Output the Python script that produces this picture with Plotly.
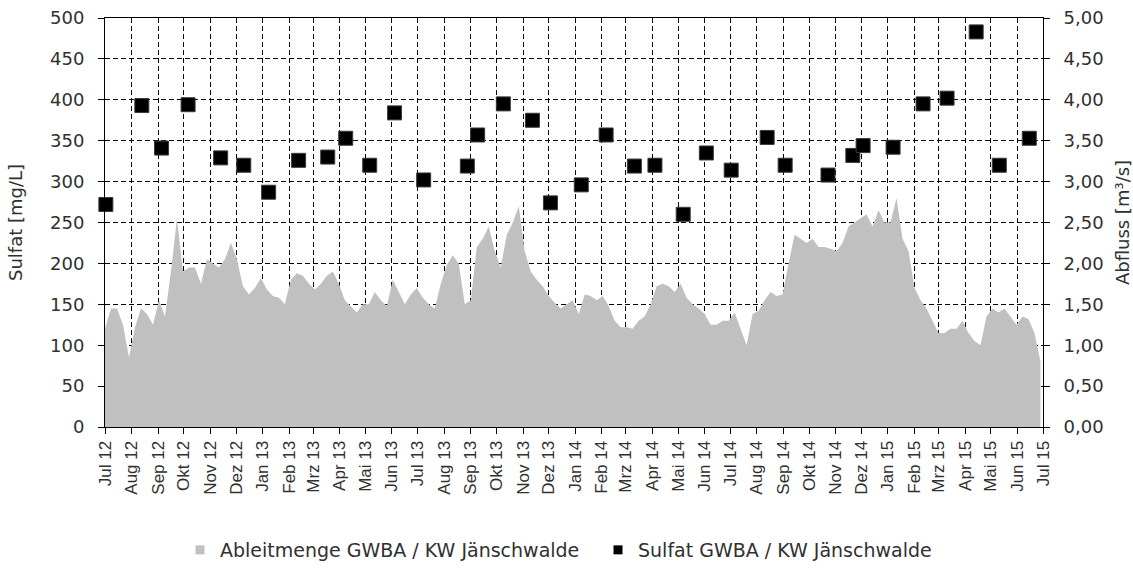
import pandas as pd
import plotly.graph_objects as go

# Monthly sulfate samples, GWBA / KW Jänschwalde [mg/L]
sulfat_dates = [
    "2012-07-02", "2012-08-13", "2012-09-05", "2012-10-06", "2012-11-13", "2012-12-10",
    "2013-01-08", "2013-02-12", "2013-03-18", "2013-04-08", "2013-05-06", "2013-06-04",
    "2013-07-08", "2013-08-28", "2013-09-09", "2013-10-09", "2013-11-12", "2013-12-03",
    "2014-01-08", "2014-02-06", "2014-03-11", "2014-04-04", "2014-05-07", "2014-06-03",
    "2014-07-02", "2014-08-13", "2014-09-03", "2014-10-23", "2014-11-21", "2014-12-03",
    "2015-01-07", "2015-02-11", "2015-03-11", "2015-04-14", "2015-05-11", "2015-06-15",
]
sulfat_values = [
    272, 393, 341, 394, 329, 320,
    287, 326, 330, 353, 320, 384,
    302, 319, 357, 395, 375, 274,
    296, 357, 319, 320, 260, 335,
    314, 354, 320, 308, 332, 344,
    342, 395, 402, 483, 320, 353,
]

# Weekly discharge, GWBA / KW Jänschwalde [m³/s], starting 2012-07-01
abfluss_start = "2012-07-01"
abfluss_values = [
    1.20, 1.45, 1.45, 1.25, 0.85, 1.22, 1.45, 1.38, 1.25, 1.55,
    1.35, 1.90, 2.55, 1.90, 1.95, 1.95, 1.75, 2.05, 2.00, 1.95,
    2.05, 2.25, 2.05, 1.72, 1.62, 1.70, 1.82, 1.68, 1.60, 1.58,
    1.50, 1.80, 1.88, 1.85, 1.75, 1.68, 1.75, 1.85, 1.90, 1.75,
    1.55, 1.48, 1.40, 1.50, 1.50, 1.65, 1.55, 1.48, 1.80, 1.65,
    1.50, 1.62, 1.70, 1.58, 1.50, 1.45, 1.75, 1.98, 2.10, 2.00,
    1.50, 1.55, 2.20, 2.30, 2.45, 2.15, 1.95, 2.35, 2.50, 2.70,
    2.15, 1.90, 1.80, 1.72, 1.60, 1.52, 1.45, 1.50, 1.55, 1.38,
    1.62, 1.60, 1.55, 1.60, 1.48, 1.30, 1.22, 1.22, 1.20, 1.30,
    1.35, 1.50, 1.72, 1.75, 1.72, 1.65, 1.75, 1.58, 1.50, 1.45,
    1.38, 1.25, 1.25, 1.30, 1.30, 1.40, 1.20, 1.00, 1.38, 1.42,
    1.55, 1.65, 1.60, 1.62, 2.00, 2.35, 2.30, 2.25, 2.30, 2.20,
    2.20, 2.18, 2.15, 2.25, 2.45, 2.50, 2.55, 2.60, 2.45, 2.65,
    2.50, 2.50, 2.80, 2.30, 2.15, 1.70, 1.55, 1.45, 1.30, 1.15,
    1.15, 1.20, 1.20, 1.30, 1.15, 1.05, 1.00, 1.35, 1.45, 1.40,
    1.45, 1.35, 1.25, 1.35, 1.32, 1.15, 0.80,
]
abfluss_dates = pd.date_range(abfluss_start, periods=len(abfluss_values), freq="7D")

# Month ticks and German labels
month_ticks = pd.date_range("2012-07-01", "2015-07-01", freq="MS")
month_names = ["Jan", "Feb", "Mrz", "Apr", "Mai", "Jun",
               "Jul", "Aug", "Sep", "Okt", "Nov", "Dez"]
month_labels = [f"{month_names[d.month - 1]} {d.year % 100:02d}" for d in month_ticks]

name_abfluss = "Ableitmenge GWBA / KW Jänschwalde"
name_sulfat = "Sulfat GWBA / KW Jänschwalde"
area_color = "#C0C0C0"
text_color = "#303030"
font_h = "DejaVu Sans"

fig = go.Figure()

fig.add_trace(go.Scatter(
    x=abfluss_dates, y=abfluss_values,
    name=name_abfluss, showlegend=False,
    mode="lines", line=dict(width=0, color=area_color),
    fill="tozeroy", fillcolor=area_color,
    yaxis="y2",
))

fig.add_trace(go.Scatter(
    x=pd.to_datetime(sulfat_dates), y=sulfat_values,
    name=name_sulfat, showlegend=False,
    mode="markers",
    marker=dict(symbol="square", size=14, color="#000000",
                line=dict(width=1, color="#3a3a3a")),
    cliponaxis=False,
))

# Legend keys: small square swatches, one legend box per series
for nm, col, lg in [(name_abfluss, area_color, "legend"), (name_sulfat, "#000000", "legend2")]:
    fig.add_trace(go.Scatter(
        x=[None], y=[None], name=nm, mode="markers", legend=lg,
        marker=dict(symbol="square", size=9, color=col),
    ))

grid = dict(showgrid=True, gridcolor="#000000", gridwidth=1, griddash="5px,3px")
legend_style = dict(orientation="h", xanchor="left", yref="container", y=18 / 568,
                    yanchor="middle", itemwidth=30,
                    font=dict(family=font_h, size=19, color=text_color))

fig.update_layout(
    width=1133, height=568,
    margin=dict(l=105, r=90, t=18, b=141, autoexpand=False),
    paper_bgcolor="white", plot_bgcolor="white",
    separators=",.",
    font=dict(family=font_h, size=18, color=text_color),
    showlegend=True,
    legend=dict(x=(180 - 105) / 938, **legend_style),
    legend2=dict(x=(598 - 105) / 938, **legend_style),
    xaxis=dict(
        type="date", automargin=False,
        range=[month_ticks[0], month_ticks[-1]],
        tickmode="array", tickvals=month_ticks, ticktext=month_labels,
        tickangle=-90,
        tickfont=dict(family="Liberation Sans", size=17, color=text_color),
        ticks="outside", ticklen=6, tickcolor="#000000",
        showline=True, linecolor="#000000", linewidth=1, mirror=True,
        **grid,
    ),
    yaxis=dict(
        range=[0, 500], tick0=0, dtick=50, automargin=False,
        title=dict(text="Sulfat [mg/L]", standoff=22,
                   font=dict(family=font_h, size=18, color=text_color)),
        ticks="outside", ticklen=6, tickcolor="#000000",
        ticklabelstandoff=10,
        showline=True, linecolor="#000000", linewidth=1,
        zeroline=False,
        **grid,
    ),
    yaxis2=dict(
        range=[0, 5], tick0=0, dtick=0.5, tickformat=".2f", automargin=False,
        overlaying="y", side="right",
        title=dict(text="Abfluss [m³/s]", standoff=16,
                   font=dict(family=font_h, size=18, color=text_color)),
        ticks="outside", ticklen=6, tickcolor="#000000",
        ticklabelstandoff=10,
        showline=True, linecolor="#000000", linewidth=1,
        showgrid=False, zeroline=False,
    ),
)

fig.write_html("out.html")
